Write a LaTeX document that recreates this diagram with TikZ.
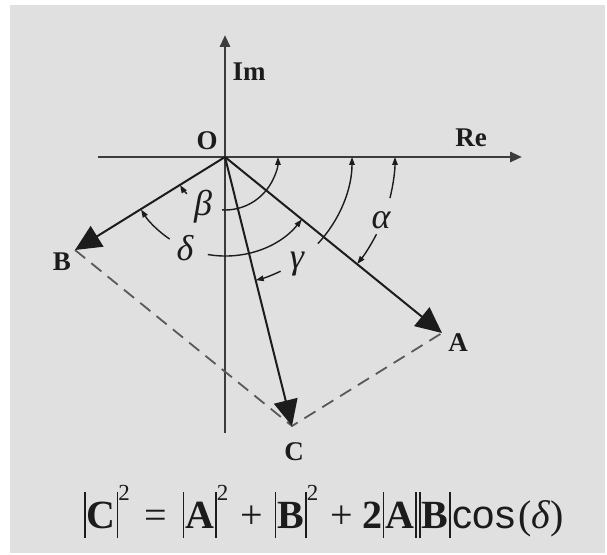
\documentclass[tikz,border=0pt]{standalone}
\usepackage{fontspec}
\setmainfont{Liberation Serif}
\newfontfamily\eqsans{Liberation Sans}
\usetikzlibrary{arrows.meta}
\definecolor{bgray}{RGB}{224,224,224}
\definecolor{ink}{RGB}{28,28,28}
\definecolor{axisc}{RGB}{60,60,60}
\newcommand{\vbr}{\rule[-0.26em]{1.6pt}{1.16em}}
\newcommand{\sqr}{\raisebox{0.68em}{\fontsize{23}{23}\selectfont 2}}
\begin{document}
\begin{tikzpicture}[x=1pt,y=1pt,
  axis/.style={line width=2.8pt, draw=axisc, -{Triangle[length=12pt,width=10pt]}},
  vec/.style={line width=2pt, draw=ink, -{Triangle[length=26pt,width=24pt]}},
  dsh/.style={line width=1.8pt, draw=axisc!85, dash pattern=on 13pt off 8pt},
  ang/.style={line width=1.4pt, draw=ink, -{Triangle[length=8pt,width=5.5pt]}},
  lbl/.style={font=\fontsize{27}{30}\selectfont\bfseries, text=ink, inner sep=0pt},
  grk/.style={font=\fontsize{36}{38}\selectfont\itshape, text=ink, inner sep=0pt}]
\useasboundingbox (0,0) rectangle (607,554);
\fill[white] (0,0) rectangle (607,554);
\fill[bgray] (10,1) rectangle (605,549);
% points
\coordinate (O) at (225,397);
\coordinate (A) at (442,221);
\coordinate (B) at (75,304);
\coordinate (C) at (292,128);
\coordinate (xs) at (98,397);
\coordinate (xe) at (522,397);
\coordinate (ys) at (225,121);
\coordinate (ye) at (225,519);
% axes
\draw[axis] (xs) -- (xe);
\draw[axis] (ys) -- (ye);
% parallelogram sides
\draw[dsh] (B) -- (C) -- (A);
% vectors
\draw[vec] (O) -- (A);
\draw[vec] (O) -- (B);
\draw[vec] (O) -- (C);
% beta arc (r=53)
\draw[ang] ([shift={(-93:53)}]O) arc[start angle=-93, end angle=0, radius=53];
\draw[ang] ([shift={(-136:53)}]O) arc[start angle=-136, end angle=-148, radius=53];
% delta arc (r=99)
\draw[ang] ([shift={(-100:99)}]O) arc[start angle=-100, end angle=-39, radius=99];
\draw[ang] ([shift={(-124:99)}]O) arc[start angle=-124, end angle=-148, radius=99];
% gamma arc (r=127)
\draw[ang] ([shift={(-43:127)}]O) arc[start angle=-43, end angle=0, radius=127];
\draw[ang] ([shift={(-64:127)}]O) arc[start angle=-64, end angle=-76, radius=127];
% alpha arc (r=170)
\draw[ang] ([shift={(-14:170)}]O) arc[start angle=-14, end angle=0, radius=170];
\draw[ang] ([shift={(-27:170)}]O) arc[start angle=-27, end angle=-39, radius=170];
% labels
\node[lbl] (lIm) at (249,482) {Im};
\node[lbl] (lRe) at (471,416) {Re};
\node[lbl] (lO) at (207,413) {O};
\node[lbl] (lA) at (458,211) {A};
\node[lbl] (lB) at (62,292) {B};
\node[lbl] (lC) at (294,102) {C};
\node[grk] (gb) at (203,347) {β};
\node[grk] (gd) at (185,306) {δ};
\node[grk] (gg) at (297,290) {γ};
\node[grk] (ga) at (381,334) {α};
% formula
\node[inner sep=0pt, anchor=base, text=ink, font=\fontsize{40}{42}\selectfont] (eq) at (324,26)
 {\vbr\kern1pt\textbf{C}\kern1pt\vbr\sqr\hspace{0.38em}=\hspace{0.38em}\vbr\kern1pt\textbf{A}\kern1pt\vbr\sqr\hspace{0.3em}+\hspace{0.3em}\vbr\kern1pt\textbf{B}\kern1pt\vbr\sqr\hspace{0.3em}+\hspace{0.25em}\textbf{2}\vbr\kern1pt\textbf{A}\kern1pt\vbr\kern2pt\vbr\kern1pt\textbf{B}\kern1pt\vbr\kern2pt{\eqsans cos}\kern3pt(\textit{δ})};
\end{tikzpicture}
\end{document}
